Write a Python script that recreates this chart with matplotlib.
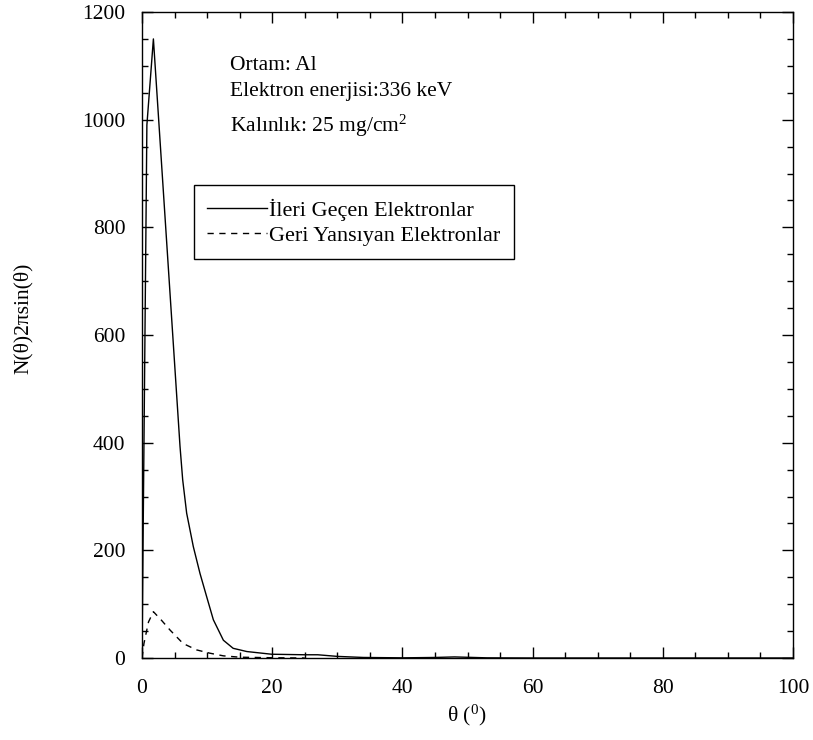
import matplotlib
matplotlib.use("Agg")
import matplotlib.pyplot as plt
from matplotlib.ticker import MultipleLocator

plt.rcParams['font.family'] = ['Liberation Serif', 'DejaVu Serif']
plt.rcParams['mathtext.fontset'] = 'custom'
plt.rcParams['mathtext.rm'] = 'Liberation Serif'
plt.rcParams['mathtext.it'] = 'Liberation Serif:italic'

# Transmitted electrons (angle in degrees, N(θ)2πsin(θ))
theta_fwd = [0, 0.75, 1.75, 5.84, 6.25, 6.86, 7.88, 8.91, 9.93, 10.96, 12.5,
             14.0, 16.1, 19.9, 25.0, 27.0, 30.0, 34.0, 40.0, 45.0, 48.0, 53.0,
             60.0, 80.0, 100.0]
n_fwd = [0, 990, 1150, 393, 331, 269, 207, 157, 114, 71, 33,
         18, 12, 7, 6, 6, 3, 1, 0.3, 1, 2, 0.3,
         0, 0, 0]

# Backscattered electrons
theta_back = [0, 0.3, 1.0, 1.75, 3.0, 4.3, 6.3, 8.4, 10.4, 12.5, 15.0, 20.0, 25.0]
n_back = [0, 27, 67, 86, 70, 52, 27, 15, 9, 4, 1.5, 0.5, 0]

labels = ["İleri Geçen Elektronlar", "Geri Yansıyan Elektronlar"]
info = ["Ortam: Al", "Elektron enerjisi:336 keV", "Kalınlık: 25 mg/cm$^2$"]

FS = 15.5

fig = plt.figure(figsize=(8.13, 7.4), dpi=100)
ax = fig.add_axes([142 / 813, 82 / 740, 651 / 813, 646 / 740])

ax.plot(theta_fwd, n_fwd, color='black', lw=1.0, label=labels[0])
ax.plot(theta_back, n_back, color='black', lw=1.0, dashes=(4.5, 4), label=labels[1])

ax.set_xlim(0, 100)
ax.set_ylim(0, 1200)
ax.xaxis.set_major_locator(MultipleLocator(20))
ax.xaxis.set_minor_locator(MultipleLocator(5))
ax.yaxis.set_major_locator(MultipleLocator(200))
ax.yaxis.set_minor_locator(MultipleLocator(50))
ax.tick_params(which='both', direction='in', top=True, right=True, labelsize=FS)
ax.tick_params(axis='x', which='major', length=8, width=1, pad=15)
ax.tick_params(axis='y', which='major', length=8, width=1, pad=12)
ax.tick_params(which='minor', length=4, width=1)
for s in ax.spines.values():
    s.set_linewidth(1.0)

ax.set_xlabel("θ ($^0$)", fontsize=FS)
ax.set_ylabel("N(θ)2πsin(θ)", fontsize=FS)
ax.xaxis.set_label_coords(0.499, -0.070)
ax.yaxis.set_label_coords(-0.167, 0.526)

for txt, yy in zip(info, [0.910, 0.870, 0.814]):
    ax.text(0.135, yy, txt, transform=ax.transAxes, fontsize=FS, va='baseline', ha='left')

leg = ax.legend(loc='upper left', bbox_to_anchor=(0.0795, 0.732), borderaxespad=0,
                fontsize=16, frameon=True, fancybox=False, edgecolor='black',
                framealpha=1, handlelength=2.7, handletextpad=0.1,
                labelspacing=0.2, borderpad=0.6)
leg.get_frame().set_linewidth(1.0)

fig.savefig("out.png", dpi=100)
